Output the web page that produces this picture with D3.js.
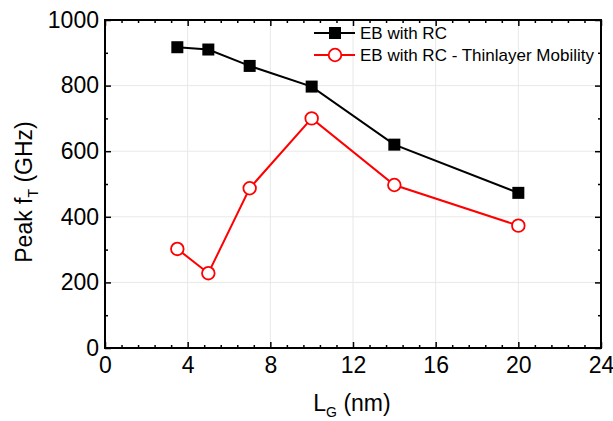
<!DOCTYPE html>
<html><head><meta charset="utf-8">
<script src="https://cdn.jsdelivr.net/npm/d3@7"></script>
<style>body{margin:0;background:#fff}svg{display:block}text{font-family:"Liberation Sans",Arial,sans-serif}</style>
</head><body>
<svg id="c" width="613" height="421"></svg>
<script>
const lg = [3.5, 5, 7, 10, 14, 20];
const ebRC = [917, 910, 860, 797, 620, 473];
const ebRCThin = [302, 228, 487, 700, 497, 373];
const seriesNames = ["EB with RC", "EB with RC - Thinlayer Mobility"];
const xTicks = [0, 4, 8, 12, 16, 20, 24];
const yTicks = [0, 200, 400, 600, 800, 1000];

const svg = d3.select("#c");
const L = 105, R = 601, T = 20, B = 348;
const x = d3.scaleLinear().domain([0, 24]).range([L, R]);
const y = d3.scaleLinear().domain([0, 1000]).range([B, T]);

// grid
const g = svg.append("g");
g.selectAll(".gx").data(xTicks.slice(1, -1)).enter().append("line")
  .attr("x1", d => x(d)).attr("x2", d => x(d)).attr("y1", T).attr("y2", B)
  .attr("stroke", "#e8e8e8").attr("stroke-width", 1);
g.selectAll(".gy").data(yTicks.slice(1, -1)).enter().append("line")
  .attr("y1", d => y(d)).attr("y2", d => y(d)).attr("x1", L).attr("x2", R)
  .attr("stroke", "#e8e8e8").attr("stroke-width", 1);

const xMinor = d3.range(0, 24.01, 0.8).filter(v => Math.abs(v / 4 - Math.round(v / 4)) > 1e-6);
const yMinor = d3.range(100, 1000, 200);

function axis(gen, tr, major, minor, labels, pad) {
  const a = svg.append("g").attr("transform", tr);
  a.call(gen.tickValues(major).tickSize(-6).tickSizeOuter(0).tickPadding(labels ? pad : 0)
    .tickFormat(labels ? d3.format("d") : ""));
  a.selectAll("text").attr("font-size", 23).attr("fill", "#000");
  a.select(".domain").remove();
  a.selectAll("line").attr("stroke", "#000").attr("stroke-width", 1.5);
  const m = svg.append("g").attr("transform", tr);
  m.call(gen.tickValues(minor).tickSize(-3).tickFormat(""));
  m.select(".domain").remove();
  m.selectAll("line").attr("stroke", "#000").attr("stroke-width", 1.5);
}
axis(d3.axisBottom(x), `translate(0,${B})`, xTicks, xMinor, true, 9);
axis(d3.axisTop(x), `translate(0,${T})`, xTicks, xMinor, false, 0);
axis(d3.axisLeft(y), `translate(${L},0)`, yTicks, yMinor, true, 6);
axis(d3.axisRight(y), `translate(${R},0)`, yTicks, yMinor, false, 0);
svg.selectAll(".tick text").attr("font-size", 23);

svg.append("rect").attr("x", L).attr("y", T).attr("width", R - L).attr("height", B - T)
  .attr("fill", "none").attr("stroke", "#000").attr("stroke-width", 2);

const line = d3.line().x(d => x(d[0])).y(d => y(d[1]));
const d1 = lg.map((v, i) => [v, ebRC[i]]);
const d2 = lg.map((v, i) => [v, ebRCThin[i]]);

svg.append("path").datum(d1).attr("d", line).attr("fill", "none").attr("stroke", "#000").attr("stroke-width", 2);
svg.selectAll(".sq").data(d1).enter().append("rect")
  .attr("x", d => x(d[0]) - 6).attr("y", d => y(d[1]) - 6).attr("width", 12).attr("height", 12).attr("fill", "#000");
svg.append("path").datum(d2).attr("d", line).attr("fill", "none").attr("stroke", "#ff0000").attr("stroke-width", 2);
svg.selectAll(".ci").data(d2).enter().append("circle")
  .attr("cx", d => x(d[0])).attr("cy", d => y(d[1])).attr("r", 6.3)
  .attr("fill", "#fff").attr("stroke", "#ff0000").attr("stroke-width", 1.8);

// legend
const lgd = svg.append("g");
const ly = [33, 55];
[0, 1].forEach(i => {
  const c = i === 0 ? "#000" : "#ff0000";
  lgd.append("line").attr("x1", 314).attr("x2", 355).attr("y1", ly[i]).attr("y2", ly[i]).attr("stroke", c).attr("stroke-width", 2);
  if (i === 0) lgd.append("rect").attr("x", 329).attr("y", ly[i] - 6).attr("width", 12).attr("height", 12).attr("fill", "#000");
  else lgd.append("circle").attr("cx", 335).attr("cy", ly[i]).attr("r", 6.3).attr("fill", "#fff").attr("stroke", c).attr("stroke-width", 1.8);
  lgd.append("text").attr("x", 360).attr("y", ly[i] + 6).attr("font-size", 17).attr("fill", "#000").text(seriesNames[i]);
});

// axis titles
const xt = svg.append("text").attr("x", 352).attr("y", 411).attr("text-anchor", "middle").attr("font-size", 23);
xt.append("tspan").text("L");
xt.append("tspan").attr("font-size", 14).attr("dy", 6).text("G");
xt.append("tspan").attr("dy", -6).text(" (nm)");

const yt = svg.append("text").attr("transform", `translate(32,192) rotate(-90)`).attr("text-anchor", "middle").attr("font-size", 23);
yt.append("tspan").text("Peak f");
yt.append("tspan").attr("font-size", 14).attr("dy", 6).text("T");
yt.append("tspan").attr("dy", -6).text(" (GHz)");
</script>
</body></html>
